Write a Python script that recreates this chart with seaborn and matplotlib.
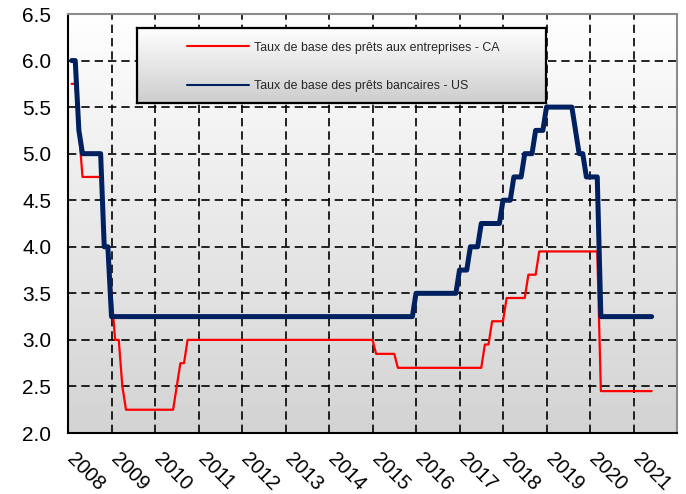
import numpy as np
import pandas as pd
import matplotlib
matplotlib.use("Agg")
import matplotlib.pyplot as plt
import seaborn as sns
from matplotlib.colors import LinearSegmentedColormap
from matplotlib.lines import Line2D
from matplotlib.transforms import ScaledTranslation

# month-end values, Jan 2008 .. May 2021
months = pd.date_range("2008-01-31", "2021-05-31", freq="ME")

ca_rate = [
    5.75, 5.75, 5.25, 4.75, 4.75, 4.75, 4.75, 4.75, 4.75, 4.00, 4.00, 3.50,  # 2008
    3.00, 3.00, 2.50, 2.25, 2.25, 2.25, 2.25, 2.25, 2.25, 2.25, 2.25, 2.25,  # 2009
    2.25, 2.25, 2.25, 2.25, 2.25, 2.50, 2.75, 2.75, 3.00, 3.00, 3.00, 3.00,  # 2010
    3.00, 3.00, 3.00, 3.00, 3.00, 3.00, 3.00, 3.00, 3.00, 3.00, 3.00, 3.00,  # 2011
    3.00, 3.00, 3.00, 3.00, 3.00, 3.00, 3.00, 3.00, 3.00, 3.00, 3.00, 3.00,  # 2012
    3.00, 3.00, 3.00, 3.00, 3.00, 3.00, 3.00, 3.00, 3.00, 3.00, 3.00, 3.00,  # 2013
    3.00, 3.00, 3.00, 3.00, 3.00, 3.00, 3.00, 3.00, 3.00, 3.00, 3.00, 3.00,  # 2014
    2.85, 2.85, 2.85, 2.85, 2.85, 2.85, 2.70, 2.70, 2.70, 2.70, 2.70, 2.70,  # 2015
    2.70, 2.70, 2.70, 2.70, 2.70, 2.70, 2.70, 2.70, 2.70, 2.70, 2.70, 2.70,  # 2016
    2.70, 2.70, 2.70, 2.70, 2.70, 2.70, 2.95, 2.95, 3.20, 3.20, 3.20, 3.20,  # 2017
    3.45, 3.45, 3.45, 3.45, 3.45, 3.45, 3.70, 3.70, 3.70, 3.95, 3.95, 3.95,  # 2018
    3.95, 3.95, 3.95, 3.95, 3.95, 3.95, 3.95, 3.95, 3.95, 3.95, 3.95, 3.95,  # 2019
    3.95, 3.95, 2.45, 2.45, 2.45, 2.45, 2.45, 2.45, 2.45, 2.45, 2.45, 2.45,  # 2020
    2.45, 2.45, 2.45, 2.45, 2.45,                                            # 2021
]

us_rate = [
    6.00, 6.00, 5.25, 5.00, 5.00, 5.00, 5.00, 5.00, 5.00, 4.00, 4.00, 3.25,  # 2008
    3.25, 3.25, 3.25, 3.25, 3.25, 3.25, 3.25, 3.25, 3.25, 3.25, 3.25, 3.25,  # 2009
    3.25, 3.25, 3.25, 3.25, 3.25, 3.25, 3.25, 3.25, 3.25, 3.25, 3.25, 3.25,  # 2010
    3.25, 3.25, 3.25, 3.25, 3.25, 3.25, 3.25, 3.25, 3.25, 3.25, 3.25, 3.25,  # 2011
    3.25, 3.25, 3.25, 3.25, 3.25, 3.25, 3.25, 3.25, 3.25, 3.25, 3.25, 3.25,  # 2012
    3.25, 3.25, 3.25, 3.25, 3.25, 3.25, 3.25, 3.25, 3.25, 3.25, 3.25, 3.25,  # 2013
    3.25, 3.25, 3.25, 3.25, 3.25, 3.25, 3.25, 3.25, 3.25, 3.25, 3.25, 3.25,  # 2014
    3.25, 3.25, 3.25, 3.25, 3.25, 3.25, 3.25, 3.25, 3.25, 3.25, 3.25, 3.50,  # 2015
    3.50, 3.50, 3.50, 3.50, 3.50, 3.50, 3.50, 3.50, 3.50, 3.50, 3.50, 3.75,  # 2016
    3.75, 3.75, 4.00, 4.00, 4.00, 4.25, 4.25, 4.25, 4.25, 4.25, 4.25, 4.50,  # 2017
    4.50, 4.50, 4.75, 4.75, 4.75, 5.00, 5.00, 5.00, 5.25, 5.25, 5.25, 5.50,  # 2018
    5.50, 5.50, 5.50, 5.50, 5.50, 5.50, 5.50, 5.25, 5.00, 5.00, 4.75, 4.75,  # 2019
    4.75, 4.75, 3.25, 3.25, 3.25, 3.25, 3.25, 3.25, 3.25, 3.25, 3.25, 3.25,  # 2020
    3.25, 3.25, 3.25, 3.25, 3.25,                                            # 2021
]

years = list(range(2008, 2022))
y_ticks = [2.0, 2.5, 3.0, 3.5, 4.0, 4.5, 5.0, 5.5, 6.0, 6.5]
series_names = ["Taux de base des prêts aux entreprises - CA",
                "Taux de base des prêts bancaires - US"]
colors = ["#ff0000", "#002060"]

df = pd.DataFrame({"date": months, "CA": ca_rate, "US": us_rate})
df["t"] = df["date"].dt.year + df["date"].dt.month / 12

sns.set_style("white")
plt.rcParams["font.family"] = ["Liberation Sans", "DejaVu Sans"]

fig = plt.figure(figsize=(6.86, 4.94), dpi=100)
ax = fig.add_axes([68 / 686, 1 - 433 / 494, 609 / 686, 419 / 494])

# gradient plot area
grad = np.linspace(0, 1, 256).reshape(-1, 1)
bg = LinearSegmentedColormap.from_list("bg", ["#ffffff", "#d3d3d3"])
ax.imshow(grad, extent=[0, 1, 0, 1], transform=ax.transAxes,
          aspect="auto", cmap=bg, zorder=0)

sns.lineplot(data=df, x="t", y="CA", color=colors[0], linewidth=1.6,
             ax=ax, zorder=3, solid_joinstyle="round", solid_capstyle="round")
sns.lineplot(data=df, x="t", y="US", color=colors[1], linewidth=3.6,
             ax=ax, zorder=4, solid_joinstyle="round", solid_capstyle="round")

ax.set_xlim(2008, 2022)
ax.set_ylim(2.0, 6.5)
ax.set_xlabel("")
ax.set_ylabel("")

ax.set_xticks(years + [2022])
ax.set_xticklabels([str(y) for y in years] + [""])
ax.set_xticks(np.arange(2008.5, 2022, 1), minor=True)
ax.set_yticks(y_ticks)
ax.set_yticklabels([f"{v:.1f}" for v in y_ticks])

ax.grid(True, which="major", color="black", linestyle=(0, (5, 3)), linewidth=1.2)
ax.set_axisbelow(True)

for s in ["left", "bottom"]:
    ax.spines[s].set_color("black")
    ax.spines[s].set_linewidth(1.5)
for s in ["top", "right"]:
    ax.spines[s].set_color("#8c8c8c")
    ax.spines[s].set_linewidth(1.5)

ax.tick_params(axis="x", which="major", direction="out", length=5, width=1.2,
               labelsize=14.5, pad=7, colors="black")
ax.tick_params(axis="x", which="minor", direction="inout", length=7, width=1.2,
               colors="black")
ax.tick_params(axis="y", which="major", direction="out", length=5, width=1.2,
               labelsize=15, pad=7, colors="black")

shift = ScaledTranslation(9 / 100, 0, fig.dpi_scale_trans)
for lab in ax.get_xticklabels():
    lab.set_rotation(-45)
    lab.set_ha("left")
    lab.set_va("top")
    lab.set_rotation_mode("anchor")
    lab.set_transform(lab.get_transform() + shift)

# legend box with its own gradient
lax = fig.add_axes([137 / 686, 1 - 103.3 / 494, 408.7 / 686, 75 / 494])
lbg = LinearSegmentedColormap.from_list("lbg", ["#ffffff", "#cdcdcd"])
lax.imshow(grad, extent=[0, 1, 0, 1], aspect="auto", cmap=lbg)
lax.set_xticks([])
lax.set_yticks([])
for s in lax.spines.values():
    s.set_color("black")
    s.set_linewidth(1.6)

handles = [Line2D([], [], color=c, lw=1.5) for c in colors]
lax.legend(handles, series_names, loc="upper left", bbox_to_anchor=(0.122, 0.82),
           frameon=False, fontsize=8.9, handlelength=5.0, handletextpad=0.45,
           labelspacing=2.15, borderpad=0, borderaxespad=0)

fig.savefig("out.png", dpi=100)
